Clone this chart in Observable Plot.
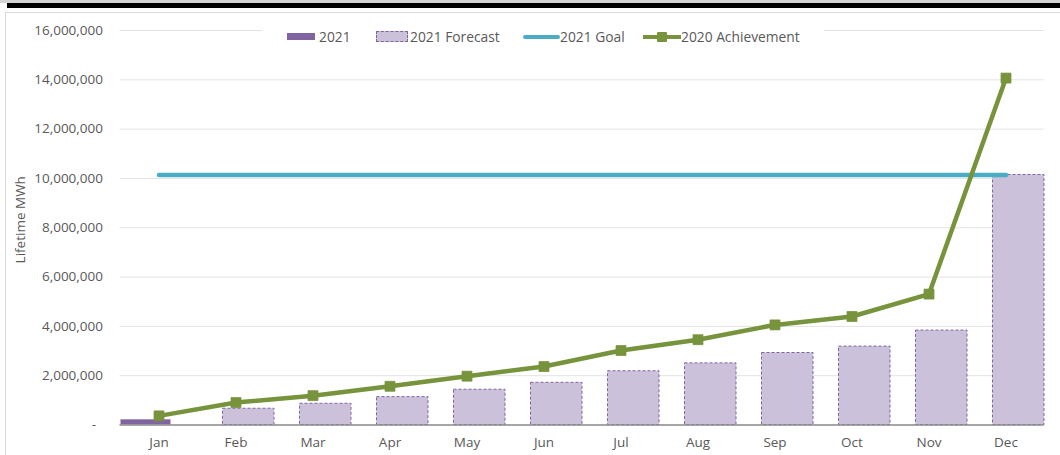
<!DOCTYPE html>
<html>
<head>
<meta charset="utf-8">
<script src="https://cdn.jsdelivr.net/npm/d3@7"></script>
<script src="https://cdn.jsdelivr.net/npm/@observablehq/plot@0.6"></script>
<style>
  html, body { margin: 0; padding: 0; background: #fff; }
  #wrap { position: relative; width: 1060px; height: 455px; overflow: hidden; font-family: "Open Sans", sans-serif; color: #595959; }
  #strip1 { position: absolute; left: 0; top: 0; width: 1060px; height: 3px; background: #d4d4d4; }
  #strip2 { position: absolute; left: 7px; top: 3px; width: 1053px; height: 5px; background: #000; }
  #frame { position: absolute; left: 5px; top: 12px; width: 1070px; height: 460px; border-left: 1px solid #d9d9d9; border-top: 1px solid #d9d9d9; }
  #chart { position: absolute; left: 0; top: 0; }
  #legend { position: absolute; left: 262px; top: 27px; width: 562px; height: 19px; background: #fff; font-size: 13.8px; }
  .lg { position: absolute; }
  .lt { position: absolute; top: 0; line-height: 19px; white-space: nowrap; }
</style>
</head>
<body>
<div id="wrap">
  <div id="strip1"></div>
  <div id="strip2"></div>
  <div id="frame"></div>
  <div id="chart"></div>
  <div id="legend"></div>
</div>
<script>
// ---- data ----
const months = ["Jan","Feb","Mar","Apr","May","Jun","Jul","Aug","Sep","Oct","Nov","Dec"];
const actual2021 = [210000, null, null, null, null, null, null, null, null, null, null, null];
const forecast2021 = [null, 660000, 860000, 1130000, 1430000, 1710000, 2180000, 2500000, 2920000, 3180000, 3830000, 10140000];
const goal2021 = 10140000;
const achievement2020 = [370000, 910000, 1190000, 1570000, 1980000, 2370000, 3020000, 3460000, 4060000, 4400000, 5310000, 14070000];
const yTicks = [0, 2000000, 4000000, 6000000, 8000000, 10000000, 12000000, 14000000, 16000000];
const seriesNames = ["2021", "2021 Forecast", "2021 Goal", "2020 Achievement"];
const yTitle = "Lifetime MWh";

// ---- tables ----
const actualRows = months.map((m, i) => ({month: m, value: actual2021[i]})).filter(d => d.value != null);
const forecastRows = months.map((m, i) => ({month: m, value: forecast2021[i]})).filter(d => d.value != null);
const goalRows = months.map(m => ({month: m, value: goal2021}));
const achRows = months.map((m, i) => ({month: m, value: achievement2020[i]}));

const cPurple = "#8064a2", cLilac = "#ccc1da", cBlue = "#4bacc6", cGreen = "#77933c";

const fmt = d3.format(",");
const chart = Plot.plot({
  width: 1060,
  height: 455,
  marginLeft: 119.5,
  marginRight: 16.5,
  marginTop: 30,
  marginBottom: 30.5,
  style: {fontFamily: "Open Sans, sans-serif", fontSize: "13.5px", color: "#595959", background: "transparent", overflow: "visible"},
  x: {type: "band", domain: months, padding: 0, label: null},
  y: {domain: [0, 16000000], label: null},
  marks: [
    Plot.gridY(yTicks, {stroke: "#e3e3e3", strokeOpacity: 1, strokeWidth: 1}),
    Plot.barY(forecastRows, {x: "month", y: "value", fill: cLilac, stroke: cPurple, strokeDasharray: "3,2", strokeWidth: 1, insetLeft: 25.5, insetRight: 0}),
    Plot.barY(actualRows, {x: "month", y: "value", fill: cPurple, insetLeft: 0.5, insetRight: 26.5}),
    Plot.ruleY([0], {stroke: "#8c8c8c", strokeWidth: 1.5}),
    Plot.axisY(yTicks, {tickSize: 0, tickPadding: 17, label: null, fill: "#595959", fontSize: 13.5,
      tickFormat: d => d === 0 ? "-\u00a0\u00a0" : fmt(d)}),
    Plot.axisX({tickSize: 0, tickPadding: 12, label: null, fill: "#595959", fontSize: 13.5}),
    Plot.text([yTitle], {frameAnchor: "left", dx: -99, dy: -8, rotate: -90, textAnchor: "middle", fill: "#595959", fontSize: 13.5}),
    Plot.lineY(goalRows, {x: "month", y: "value", stroke: cBlue, strokeWidth: 4.5, strokeLinecap: "round"}),
    Plot.lineY(achRows, {x: "month", y: "value", stroke: cGreen, strokeWidth: 4.5, strokeLinejoin: "round"}),
    Plot.dot(achRows, {x: "month", y: "value", symbol: "square", r: 5.6, fill: cGreen, stroke: cGreen, strokeWidth: 0.8, strokeLinejoin: "round"})
  ]
});
document.getElementById("chart").appendChild(chart);

// ---- legend (HTML overlay, left offsets relative to legend box at x=262) ----
const lg = document.getElementById("legend");
function add(html) { lg.insertAdjacentHTML("beforeend", html); }
// 2021
add(`<div class="lg" style="left:${287-262}px; top:6px; width:28px; height:7px; background:${cPurple}"></div>`);
add(`<div class="lt" style="left:${319-262}px">${seriesNames[0]}</div>`);
// 2021 Forecast
add(`<div class="lg" style="left:${376-262}px; top:4px; width:30px; height:9px; background:${cLilac}; border:1px dashed ${cPurple}"></div>`);
add(`<div class="lt" style="left:${410-262}px">${seriesNames[1]}</div>`);
// 2021 Goal
add(`<div class="lg" style="left:${523-262}px; top:7.5px; width:37px; height:4.5px; border-radius:2px; background:${cBlue}"></div>`);
add(`<div class="lt" style="left:${560-262}px">${seriesNames[2]}</div>`);
// 2020 Achievement
add(`<div class="lg" style="left:${643-262}px; top:7.5px; width:38px; height:4.5px; background:${cGreen}"></div>`);
add(`<div class="lg" style="left:${657-262}px; top:4.5px; width:10px; height:10px; border-radius:1px; background:${cGreen}"></div>`);
add(`<div class="lt" style="left:${681-262}px">${seriesNames[3]}</div>`);
</script>
</body>
</html>
